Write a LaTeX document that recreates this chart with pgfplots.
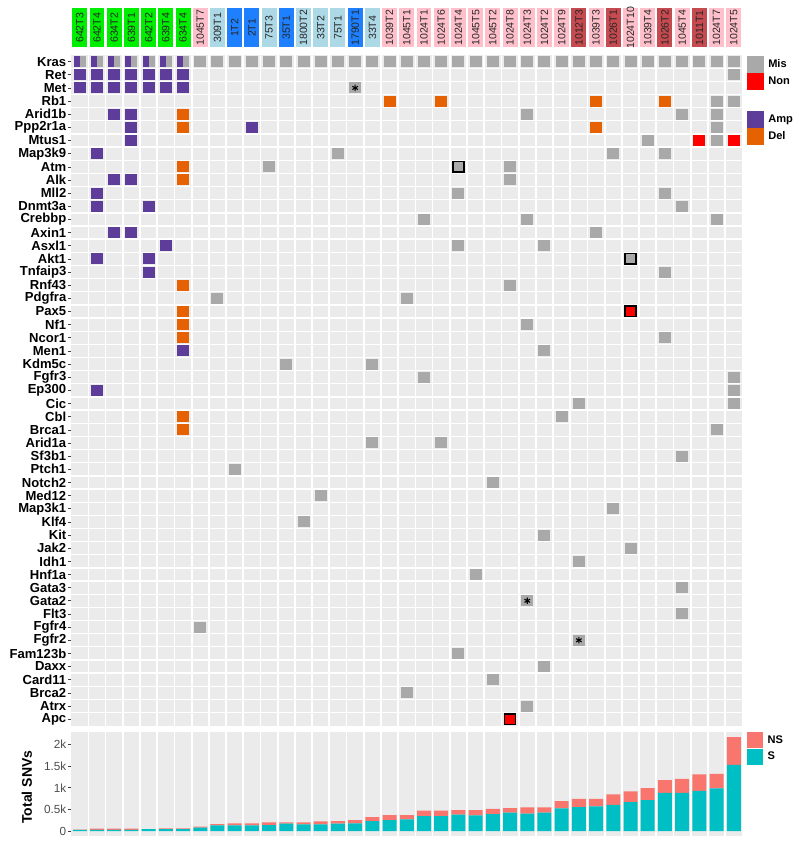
\documentclass[border=0pt]{standalone}
\usepackage{fontspec}
\setmainfont{Liberation Sans}
\usepackage{pgfplots}
\pgfplotsset{compat=1.18}
\definecolor{bggray}{HTML}{EBEBEB}
\definecolor{misgray}{HTML}{A9A9A9}
\definecolor{nonred}{HTML}{FF0000}
\definecolor{amppurp}{HTML}{5E3C99}
\definecolor{delorange}{HTML}{E66101}
\definecolor{hgreen}{HTML}{00EE00}
\definecolor{hpink}{HTML}{FFC0CB}
\definecolor{hlblue}{HTML}{ADD8E6}
\definecolor{hblue}{HTML}{1E80FF}
\definecolor{hdred}{HTML}{C54B50}
\definecolor{scol}{HTML}{00BFC4}
\definecolor{nscol}{HTML}{F8766D}
\pgfdeclareplotmark{cell}{\pgfpathrectangle{\pgfpoint{-4.5pt}{-4.125pt}}{\pgfpoint{9pt}{8.25pt}}\pgfusepathqfill}
\pgfdeclareplotmark{halfcell}{\pgfpathrectangle{\pgfpoint{-4.5pt}{-4.125pt}}{\pgfpoint{4.4pt}{8.25pt}}\pgfusepathqfill}
\pgfdeclareplotmark{cellout}{\pgfpathrectangle{\pgfpoint{-4.1pt}{-3.9pt}}{\pgfpoint{8.2pt}{7.8pt}}\pgfusepathqfillstroke}
\pgfdeclareplotmark{hbox}{\pgfpathrectangle{\pgfpoint{-5.6pt}{-14.625pt}}{\pgfpoint{11.2pt}{29.25pt}}\pgfusepathqfill}
\begin{document}
\begin{tikzpicture}
\path[use as bounding box] (0pt,0pt) rectangle (600pt,634.5pt);
% ---------------- header ----------------
\begin{axis}[at={(53.4pt,599pt)}, anchor=south west, scale only axis,
  width=503.4pt, height=29.25pt, xmin=0.5, xmax=39.5, ymin=0, ymax=1,
  hide axis, clip=false,
  nodes near coords, point meta=explicit symbolic, nodes near coords align={center},
  every node near coord/.append style={rotate=90, anchor=center, inner sep=0pt,
     font=\fontsize{7.9}{8}\selectfont, text=black!85}]
\addplot[only marks, mark=hbox, color=hgreen] table[meta=label]{
x y label
1 0.5 642T3
2 0.5 642T4
3 0.5 634T2
4 0.5 639T1
5 0.5 642T2
6 0.5 639T4
7 0.5 634T4
};
\addplot[only marks, mark=hbox, color=hpink] table[meta=label]{
x y label
8 0.5 1045T7
19 0.5 1039T2
20 0.5 1045T1
21 0.5 1024T1
22 0.5 1024T6
23 0.5 1024T4
24 0.5 1045T5
25 0.5 1045T2
26 0.5 1024T8
27 0.5 1024T3
28 0.5 1024T2
29 0.5 1024T9
31 0.5 1039T3
33 0.5 1024T10
34 0.5 1039T4
36 0.5 1045T4
38 0.5 1024T7
39 0.5 1024T5
};
\addplot[only marks, mark=hbox, color=hlblue] table[meta=label]{
x y label
9 0.5 309T1
12 0.5 75T3
14 0.5 1800T2
15 0.5 33T2
16 0.5 75T1
18 0.5 33T4
};
\addplot[only marks, mark=hbox, color=hblue] table[meta=label]{
x y label
10 0.5 1T2
11 0.5 2T1
13 0.5 35T1
17 0.5 1790T1
};
\addplot[only marks, mark=hbox, color=hdred] table[meta=label]{
x y label
30 0.5 1012T3
32 0.5 1026T1
35 0.5 1026T2
37 0.5 1011T1
};
\end{axis}
% ---------------- heatmap ----------------
\begin{axis}[at={(53.4pt,593.2pt)}, anchor=north west, scale only axis,
  width=503.4pt, height=503pt, xmin=0.5, xmax=39.5, ymin=0.5, ymax=51.5,
  axis background/.style={fill=bggray}, axis line style={draw=none},
  xtick={1.5,2.5,...,38.5}, xticklabel={\mbox{}}, xmajorgrids,
  major x grid style={white, line width=1.3pt}, x tick style={draw=none},
  ytick={1,...,51},
  yticklabels={Apc,Atrx,Brca2,Card11,Daxx,Fam123b,Fgfr2,Fgfr4,Flt3,Gata2,Gata3,Hnf1a,Idh1,Jak2,Kit,Klf4,Map3k1,Med12,Notch2,Ptch1,Sf3b1,Arid1a,Brca1,Cbl,Cic,Ep300,Fgfr3,Kdm5c,Men1,Ncor1,Nf1,Pax5,Pdgfra,Rnf43,Tnfaip3,Akt1,Asxl1,Axin1,Crebbp,Dnmt3a,Mll2,Alk,Atm,Map3k9,Mtus1,Ppp2r1a,Arid1b,Rb1,Met,Ret,Kras},
  minor ytick={1.5,2.5,...,50.5}, yminorgrids,
  minor y grid style={white, line width=1pt},
  minor tick length=0pt, major tick length=2.5pt, tick align=outside,
  ytick pos=left, y tick style={draw=black!75, line width=0.5pt},
  yticklabel style={font=\bfseries\fontsize{9.8}{10}\selectfont, text=black, inner sep=1pt},
  clip=false,
  legend style={at={(1,1)}, anchor=north west, xshift=3.2pt, yshift=-0.7pt,
     draw=none, fill=none, inner sep=0pt, outer sep=0pt, row sep=0.5pt, column sep=1.8pt,
     font=\bfseries\fontsize{8.3}{9}\selectfont},
  legend cell align=left]
% Mis (grey)
\addplot[only marks, mark=cell, color=misgray, forget plot] table{
x y
1 51
2 51
3 51
4 51
5 51
6 51
7 51
8 51
9 51
10 51
11 51
12 51
13 51
14 51
15 51
16 51
17 51
18 51
19 51
20 51
21 51
22 51
23 51
24 51
25 51
26 51
27 51
28 51
29 51
30 51
31 51
32 51
33 51
34 51
35 51
36 51
37 51
38 51
39 51
39 50
17 49
38 48
39 48
27 47
36 47
38 47
38 46
34 45
38 45
16 44
32 44
35 44
12 43
26 43
26 42
23 41
35 41
36 40
21 39
27 39
38 39
31 38
23 37
28 37
35 35
26 34
9 33
20 33
27 31
35 30
28 29
13 28
18 28
21 27
39 27
39 26
30 25
39 25
29 24
38 23
18 22
22 22
36 21
10 20
25 19
15 18
32 17
14 16
28 15
33 14
30 13
24 12
36 11
27 10
36 9
8 8
30 7
23 6
28 5
25 4
20 3
27 2
};
% Mis outlined
\addplot[only marks, mark=cellout, mark options={fill=misgray, draw=black, line width=1.2pt}, forget plot] table{
x y
23 43
33 36
};
% Non (red)
\addplot[only marks, mark=cell, color=nonred, forget plot] table{
x y
37 45
39 45
};
\addplot[only marks, mark=cellout, mark options={fill=nonred, draw=black, line width=1.2pt}, forget plot] table{
x y
33 32
26 1
};
% Amp (purple)
\addplot[only marks, mark=cell, color=amppurp, forget plot] table{
x y
1 50
2 50
3 50
4 50
5 50
6 50
7 50
1 49
2 49
3 49
4 49
5 49
6 49
7 49
3 47
4 47
4 46
11 46
4 45
2 44
3 42
4 42
2 41
2 40
5 40
3 38
4 38
6 37
2 36
5 36
5 35
7 29
2 26
};
\addplot[only marks, mark=halfcell, color=amppurp, forget plot] table{
x y
1 51
2 51
3 51
4 51
5 51
6 51
7 51
};
% Del (orange)
\addplot[only marks, mark=cell, color=delorange, forget plot] table{
x y
19 48
22 48
31 48
35 48
7 47
7 46
31 46
7 43
7 42
7 34
7 32
7 31
7 30
7 24
7 23
};
% asterisks
\addplot[only marks, mark=asterisk, mark size=2.4pt, color=black, line width=0.8pt, forget plot] table{
x y
17 49
27 10
30 7
};
\addlegendimage{legend image code/.code={\fill[misgray] (0pt,-6pt) rectangle (12pt,6pt);}}
\addlegendentry{Mis}
\addlegendimage{legend image code/.code={\fill[nonred] (0pt,-6pt) rectangle (12pt,6pt);}}
\addlegendentry{Non}
\addlegendimage{legend image code/.code={\path[draw=none,fill=none] (0pt,-7.5pt) rectangle (12pt,7.5pt);}}
\addlegendentry{}
\addlegendimage{legend image code/.code={\fill[amppurp] (0pt,-6pt) rectangle (12pt,6pt);}}
\addlegendentry{Amp}
\addlegendimage{legend image code/.code={\fill[delorange] (0pt,-6pt) rectangle (12pt,6pt);}}
\addlegendentry{Del}
\end{axis}
% ---------------- bar chart ----------------
\begin{axis}[at={(53.4pt,7.7pt)}, anchor=south west, scale only axis,
  width=503.4pt, height=77.55pt, xmin=0.5, xmax=39.5, ymin=-108, ymax=2280,
  axis background/.style={fill=bggray}, axis line style={draw=none},
  ybar stacked, bar width=10.5pt,
  xtick={1.5,2.5,...,38.5}, xticklabel={\mbox{}}, xmajorgrids,
  major x grid style={white, line width=1.3pt}, x tick style={draw=none},
  ytick={0,500,1000,1500,2000}, yticklabels={0,0.5k,1k,1.5k,2k},
  major tick length=2.5pt, tick align=outside, ytick pos=left,
  y tick style={draw=black!75, line width=0.5pt},
  yticklabel style={font=\fontsize{8.8}{9}\selectfont, text=black!70, inner sep=1pt},
  ylabel={Total SNVs},
  ylabel style={at={(axis description cs:-0.0659,0.47)}, anchor=center, font=\bfseries\fontsize{10.5}{11}\selectfont},
  reverse legend,
  legend style={at={(1,1)}, anchor=north west, xshift=3.2pt, yshift=0pt,
     draw=none, fill=none, inner sep=0pt, outer sep=0pt, row sep=0.5pt, column sep=1.8pt,
     font=\bfseries\fontsize{8.3}{9}\selectfont},
  legend cell align=left]
\addplot[fill=scol, draw=none, legend image code/.code={\fill[scol] (0pt,-6pt) rectangle (12pt,6pt);}] table{
x y
1 25
2 30
3 30
4 28
5 44
6 46
7 46
8 77
9 130
10 130
11 130
12 138
13 170
14 154
15 154
16 170
17 177
18 230
19 254
20 270
21 346
22 346
23 377
24 360
25 392
26 423
27 400
28 423
29 523
30 554
31 569
32 607
33 669
34 715
35 884
36 884
37 930
38 984
39 1530
};
\addlegendentry{S}
\addplot[fill=nscol, draw=none, legend image code/.code={\fill[nscol] (0pt,-6pt) rectangle (12pt,6pt);}] table{
x y
1 8
2 24
3 24
4 26
5 3
6 14
7 14
8 23
9 30
10 47
11 47
12 62
13 30
14 46
15 69
16 60
17 77
18 93
19 116
20 100
21 124
22 124
23 108
24 125
25 123
26 107
27 146
28 123
29 169
30 192
31 177
32 239
33 246
34 277
35 293
36 323
37 377
38 339
39 639
};
\addlegendentry{NS}
\end{axis}
\end{tikzpicture}
\end{document}
